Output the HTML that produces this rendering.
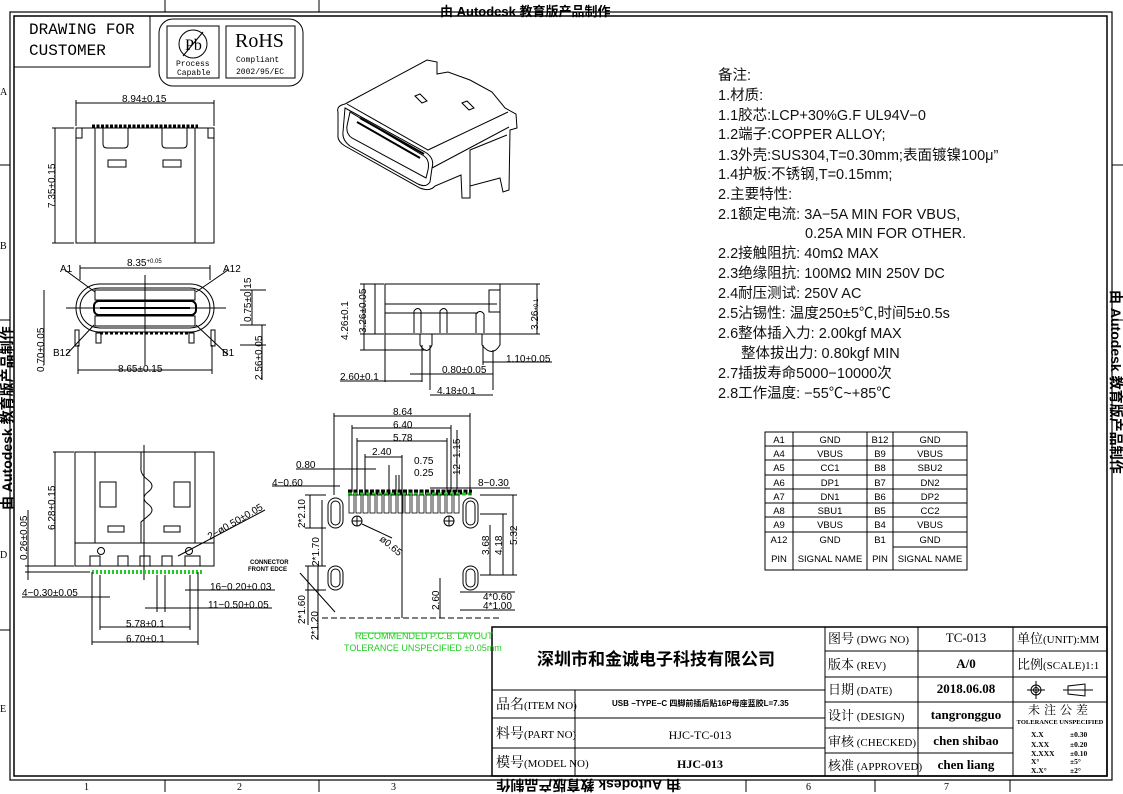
<!DOCTYPE html>
<html><head><meta charset="utf-8"><style>
html,body{margin:0;padding:0;background:#fff;}
svg{display:block;}
text{font-family:"Liberation Sans","Noto Sans CJK SC",sans-serif;fill:#000;}
.s,.s text{font-family:"Liberation Serif","Noto Serif CJK SC",serif;}
.m{font-family:"Liberation Mono","Noto Sans CJK SC",monospace;}
.d{font-size:10px;}
.g{fill:#22cc22;}
.n text{fill:#111;}
</style></head><body>
<svg width="1123" height="794" viewBox="0 0 1123 794" xmlns="http://www.w3.org/2000/svg">
<g fill="none" stroke="#000" stroke-width="1">
<rect x="10" y="12" width="1102" height="768" stroke-width="1.2"/>
<rect x="14" y="16" width="1093" height="760" stroke-width="1.5"/>
<line x1="165" y1="0" x2="165" y2="12"/><line x1="319" y1="0" x2="319" y2="12"/>
<line x1="165" y1="780" x2="165" y2="792"/><line x1="319" y1="780" x2="319" y2="792"/>
<line x1="746" y1="780" x2="746" y2="792"/><line x1="875" y1="780" x2="875" y2="792"/><line x1="1010" y1="780" x2="1010" y2="792"/>
<line x1="0" y1="165" x2="10" y2="165"/><line x1="0" y1="320" x2="10" y2="320"/><line x1="0" y1="630" x2="10" y2="630"/>
<line x1="1112" y1="165" x2="1123" y2="165"/><line x1="1112" y1="320" x2="1123" y2="320"/>
<rect x="14" y="16" width="136" height="51"/>
<rect x="159" y="19" width="144" height="67" rx="14"/>
<rect x="167" y="26" width="52" height="52"/>
<rect x="226" y="26" width="69" height="52"/>
<circle cx="193" cy="44" r="14"/><line x1="183" y1="56" x2="203" y2="32"/>

<rect x="76" y="128" width="138" height="115"/>
<line x1="95" y1="128" x2="95" y2="243"/><line x1="195" y1="128" x2="195" y2="243"/>
<path d="M76 128 L76 138 L82 138 L82 128 M214 128 L214 138 L208 138 L208 128"/>
<path d="M103 128 V144 Q103 148 107 148 H124 Q128 148 128 144 V128"/>
<path d="M162 128 V144 Q162 148 166 148 H183 Q187 148 187 144 V128"/>
<rect x="108" y="160" width="18" height="7"/><rect x="163" y="160" width="18" height="7"/>
<path d="M92 126 h106" stroke-dasharray="3 1.5" stroke-width="3"/>
<line x1="76" y1="100" x2="76" y2="126"/><line x1="214" y1="100" x2="214" y2="126"/>
<line x1="76" y1="103" x2="214" y2="103"/>
<line x1="52" y1="128" x2="74" y2="128"/><line x1="52" y1="243" x2="74" y2="243"/>
<line x1="55" y1="128" x2="55" y2="243"/>

<rect x="76" y="284" width="138" height="48" rx="24"/>
<rect x="80" y="288" width="130" height="40" rx="20"/>
<rect x="94" y="301" width="102" height="14" rx="5" stroke-width="2"/>
<line x1="100" y1="308" x2="190" y2="308" stroke-width="2"/>
<line x1="66" y1="308" x2="226" y2="308"/>
<line x1="145" y1="275" x2="145" y2="365"/>
<rect x="95" y="290" width="100" height="10"/><rect x="95" y="316" width="100" height="10"/>
<rect x="96" y="333" width="5" height="10"/><rect x="189" y="333" width="5" height="10"/>
<rect x="75" y="330" width="4" height="16"/><rect x="211" y="330" width="4" height="16"/>
<path d="M100 333 h90" stroke-dasharray="3 2" stroke-width="3"/>
<line x1="80" y1="265" x2="80" y2="280"/><line x1="210" y1="265" x2="210" y2="280"/>
<line x1="80" y1="268" x2="210" y2="268"/>
<line x1="78" y1="345" x2="78" y2="374"/><line x1="212" y1="345" x2="212" y2="374"/>
<line x1="78" y1="370" x2="212" y2="370"/>
<path d="M65 270 L95 292 M228 270 L196 292 M66 355 L94 325 M228 355 L196 325"/>
<line x1="44" y1="290" x2="44" y2="365"/>
<line x1="240" y1="290" x2="266" y2="290"/><line x1="240" y1="325" x2="266" y2="325"/><line x1="240" y1="345" x2="266" y2="345"/>
<line x1="252" y1="290" x2="252" y2="325"/><line x1="262" y1="325" x2="262" y2="380"/>

<path d="M338 112 Q336 106 345 104 L427 60 L437 62 L437 74 L448 72 L470 80 L492 92 L505 108 L516 114 L517 128 L510 130 L509 190 L503 192 L500 178 L470 186 L470 198 L462 198 L461 175 L435 186 Q430 192 420 188 L345 146 Q337 141 338 135 Z"/>
<path d="M345 108 L425 152 Q435 158 432 168 L430 182 Q426 188 418 184 L350 146 Q342 140 343 132 Z"/>
<path d="M350 112 L424 156 Q430 160 428 170 L426 178 L352 138 Q346 134 347 126 Z"/>
<path d="M347 104 L428 150 L508 112"/><path d="M432 168 L509 127"/>
<path d="M357 122 L420 158 M360 118 L424 154" stroke-width="2"/>
<path d="M415 96 L420 94 L427 101 L422 103 Z M462 103 L467 101 L474 108 L469 110 Z"/>
<path d="M470 186 L470 150 L507 135"/>

<rect x="385" y="284" width="115" height="50"/>
<line x1="385" y1="304" x2="497" y2="304"/><line x1="385" y1="313" x2="478" y2="313"/>
<rect x="489" y="290" width="11" height="22"/>
<path d="M414 333 V311 Q418 306 421 311 V333 M440 333 V311 Q444 306 447 311 V333 M476 333 V314 Q480 309 484 314 V333"/>
<path d="M420 334 V345 Q427 356 432 345 V334 M482 334 V345 Q492 358 500 345 V334"/>
<line x1="360" y1="284" x2="384" y2="284"/><line x1="360" y1="334" x2="384" y2="334"/><line x1="360" y1="350" x2="426" y2="350"/>
<line x1="364" y1="284" x2="364" y2="350"/><line x1="375" y1="284" x2="375" y2="334"/>
<line x1="500" y1="284" x2="540" y2="284"/><line x1="500" y1="334" x2="540" y2="334"/><line x1="537" y1="284" x2="537" y2="334"/>
<line x1="385" y1="334" x2="385" y2="382"/><line x1="422" y1="345" x2="422" y2="382"/><line x1="430" y1="345" x2="430" y2="390"/>
<line x1="493" y1="350" x2="493" y2="390"/><line x1="483" y1="345" x2="483" y2="365"/>
<line x1="340" y1="381" x2="422" y2="381"/><line x1="410" y1="374" x2="493" y2="374"/><line x1="430" y1="395" x2="493" y2="395"/>
<line x1="483" y1="362" x2="552" y2="362"/>

<rect x="75" y="452" width="139" height="114"/>
<line x1="95" y1="452" x2="95" y2="543"/><line x1="195" y1="452" x2="195" y2="543"/>
<line x1="75" y1="543" x2="214" y2="543"/>
<line x1="144" y1="445" x2="144" y2="580"/>
<path d="M141 452 V468 Q140 474 148 480 Q156 486 148 492 Q140 498 148 504 Q156 510 148 516 L141 522 V543"/>
<rect x="100" y="482" width="16" height="25"/><rect x="174" y="482" width="16" height="25"/>
<rect x="108" y="526" width="16" height="6"/><rect x="164" y="526" width="16" height="6"/>
<circle cx="101" cy="551" r="3.5"/><circle cx="189" cy="551" r="3.5"/>
<path d="M90 566 V556 H100 V566 M118 566 V556 H128 V566 M140 566 V556 H150 V566 M162 566 V556 H172 V566 M185 566 V556 H200 V566"/>
<path d="M92 572 h110" stroke-dasharray="2 2" stroke-width="4" stroke="#22cc22"/>
<line x1="53" y1="452" x2="74" y2="452"/><line x1="53" y1="566" x2="74" y2="566"/><line x1="55" y1="452" x2="55" y2="566"/>
<line x1="25" y1="566" x2="74" y2="566"/><line x1="25" y1="572" x2="90" y2="572"/><line x1="28" y1="510" x2="28" y2="580"/>
<line x1="92" y1="572" x2="92" y2="645"/><line x1="198" y1="572" x2="198" y2="645"/>
<line x1="100" y1="575" x2="100" y2="630"/><line x1="190" y1="575" x2="190" y2="630"/>
<line x1="100" y1="627" x2="190" y2="627"/><line x1="92" y1="642" x2="198" y2="642"/>
<line x1="22" y1="597" x2="110" y2="597"/><line x1="185" y1="590" x2="275" y2="590"/><line x1="145" y1="608" x2="272" y2="608"/>
<line x1="157" y1="575" x2="157" y2="612"/><line x1="165" y1="575" x2="165" y2="612"/>
<line x1="178" y1="556" x2="265" y2="510"/>

<path d="M348 492 h124" stroke-dasharray="4 1.5" stroke-width="5"/>
<path d="M348 494 h124" stroke-dasharray="4 2" stroke-width="3" stroke="#22cc22"/>
<g stroke-width="0.8">
<rect x="349" y="495" width="5" height="18"/><rect x="356" y="495" width="5" height="18"/><rect x="363" y="495" width="5" height="18"/><rect x="370" y="495" width="5" height="18"/><rect x="377" y="495" width="5" height="18"/><rect x="384" y="495" width="5" height="18"/><rect x="391" y="495" width="5" height="18"/><rect x="398" y="495" width="5" height="18"/><rect x="405" y="495" width="5" height="18"/><rect x="412" y="495" width="5" height="18"/><rect x="419" y="495" width="5" height="18"/><rect x="426" y="495" width="5" height="18"/><rect x="433" y="495" width="5" height="18"/><rect x="440" y="495" width="5" height="18"/><rect x="447" y="495" width="5" height="18"/><rect x="454" y="495" width="5" height="18"/>
</g>
<rect x="328" y="498" width="15" height="30" rx="7.5"/><rect x="331" y="501" width="9" height="24" rx="4.5"/>
<rect x="463" y="498" width="15" height="30" rx="7.5"/><rect x="466" y="501" width="9" height="24" rx="4.5"/>
<rect x="328" y="566" width="15" height="24" rx="7.5"/><rect x="331" y="569" width="9" height="18" rx="4.5"/>
<rect x="463" y="566" width="15" height="24" rx="7.5"/><rect x="466" y="569" width="9" height="18" rx="4.5"/>
<circle cx="357" cy="521" r="5"/><circle cx="449" cy="521" r="5"/>
<path d="M352 521 h10 M357 516 v10 M444 521 h10 M449 516 v10"/>
<path d="M362 524 L392 538"/>
<line x1="322" y1="618" x2="500" y2="618" stroke-dasharray="6 3"/>
<line x1="402" y1="455" x2="402" y2="618"/>
<line x1="334" y1="413" x2="334" y2="495"/><line x1="470" y1="413" x2="470" y2="495"/><line x1="334" y1="416" x2="470" y2="416"/>
<line x1="352" y1="425" x2="352" y2="492"/><line x1="451" y1="425" x2="451" y2="492"/><line x1="352" y1="428" x2="451" y2="428"/>
<line x1="357" y1="438" x2="357" y2="492"/><line x1="447" y1="438" x2="447" y2="492"/><line x1="357" y1="441" x2="447" y2="441"/>
<line x1="365" y1="454" x2="365" y2="492"/><line x1="365" y1="457" x2="402" y2="457"/>
<line x1="389" y1="465" x2="389" y2="492"/><line x1="396" y1="475" x2="396" y2="492"/><line x1="399" y1="475" x2="399" y2="492"/>
<line x1="296" y1="469" x2="376" y2="469"/><line x1="272" y1="486" x2="340" y2="486"/><line x1="430" y1="488" x2="510" y2="488"/>
<line x1="457" y1="430" x2="457" y2="492"/>
<line x1="305" y1="495" x2="326" y2="495"/><line x1="305" y1="528" x2="326" y2="528"/><line x1="310" y1="495" x2="310" y2="528"/>
<line x1="322" y1="500" x2="322" y2="566"/>
<line x1="305" y1="566" x2="326" y2="566"/><line x1="305" y1="590" x2="326" y2="590"/><line x1="308" y1="566" x2="308" y2="625"/><line x1="318" y1="566" x2="318" y2="640"/>
<line x1="480" y1="495" x2="517" y2="495"/><line x1="480" y1="514" x2="507" y2="514"/><line x1="480" y1="575" x2="517" y2="575"/>
<line x1="513" y1="495" x2="513" y2="575"/><line x1="503" y1="514" x2="503" y2="575"/><line x1="490" y1="525" x2="490" y2="575"/>
<line x1="440" y1="578" x2="440" y2="618"/>
<line x1="460" y1="592" x2="515" y2="592"/><line x1="460" y1="610" x2="515" y2="610"/>
<line x1="300" y1="573" x2="335" y2="612"/>
<line x1="355" y1="633" x2="480" y2="633" stroke="#22cc22"/>

<rect x="765" y="432" width="202" height="138"/>
<line x1="793" y1="432" x2="793" y2="570"/><line x1="867" y1="432" x2="867" y2="570"/><line x1="893" y1="432" x2="893" y2="570"/>
<line x1="765" y1="446" x2="967" y2="446"/><line x1="765" y1="460" x2="967" y2="460"/><line x1="765" y1="475" x2="967" y2="475"/><line x1="765" y1="489" x2="967" y2="489"/><line x1="765" y1="503" x2="967" y2="503"/><line x1="765" y1="517" x2="967" y2="517"/><line x1="765" y1="532" x2="967" y2="532"/><line x1="893" y1="547" x2="967" y2="547"/>

<rect x="492" y="627" width="615" height="149" stroke-width="1.5"/>
<line x1="825" y1="627" x2="825" y2="776"/><line x1="918" y1="627" x2="918" y2="776"/><line x1="1013" y1="627" x2="1013" y2="776"/>
<line x1="492" y1="690" x2="825" y2="690"/><line x1="492" y1="718" x2="825" y2="718"/><line x1="492" y1="748" x2="825" y2="748"/>
<line x1="575" y1="690" x2="575" y2="776"/>
<line x1="825" y1="651" x2="1107" y2="651"/><line x1="825" y1="677" x2="1107" y2="677"/><line x1="825" y1="702" x2="1107" y2="702"/>
<line x1="825" y1="728" x2="1013" y2="728"/><line x1="825" y1="753" x2="1013" y2="753"/>
<circle cx="1036" cy="690" r="5"/><circle cx="1036" cy="690" r="2.5"/><path d="M1027 690 h18 M1036 681 v18"/>
<path d="M1063 690 h30 M1068 686 v8 L1085 696 V684 Z"/>
</g>

<text class="m" x="29" y="34" font-size="16" fill="#1a1a50">DRAWING FOR</text>
<text class="m" x="29" y="55" font-size="16" fill="#1a1a50">CUSTOMER</text>
<text class="s" x="185" y="50" font-size="16">Pb</text>
<text class="m" x="176" y="66" font-size="8">Process</text>
<text class="m" x="177" y="75" font-size="8">Capable</text>
<text class="s" x="235" y="47" font-size="20">RoHS</text>
<text class="m" x="236" y="62" font-size="8">Compliant</text>
<text class="m" x="236" y="74" font-size="8">2002/95/EC</text>

<g class="d">
<text x="122" y="102">8.94±0.15</text>
<text transform="translate(55,208) rotate(-90)">7.35±0.15</text>
<text x="127" y="266">8.35<tspan font-size="6" dy="-3">+0.05</tspan></text>
<text x="60" y="272">A1</text><text x="223" y="272">A12</text>
<text x="53" y="356">B12</text><text x="222" y="356">B1</text>
<text x="118" y="372">8.65±0.15</text>
<text transform="translate(251,322) rotate(-90)">0.75±0.15</text>
<text transform="translate(262,380) rotate(-90)">2.56±0.05</text>
<text transform="translate(44,372) rotate(-90)">0.70±0.05</text>
<text transform="translate(348,340) rotate(-90)">4.26±0.1</text>
<text transform="translate(366,333) rotate(-90)">3.26±0.05</text>
<text transform="translate(538,330) rotate(-90)">3.26<tspan font-size="6">+0.1</tspan></text>
<text x="506" y="362">1.10±0.05</text>
<text x="442" y="373">0.80±0.05</text>
<text x="340" y="380">2.60±0.1</text>
<text x="437" y="394">4.18±0.1</text>
<text transform="translate(55,530) rotate(-90)">6.28±0.15</text>
<text transform="translate(27,560) rotate(-90)">0.26±0.05</text>
<text transform="translate(210,540) rotate(-30)">2−ø0.50±0.05</text>
<text x="22" y="596">4−0.30±0.05</text>
<text x="210" y="590">16−0.20±0.03</text>
<text x="208" y="608">11−0.50±0.05</text>
<text x="126" y="627">5.78±0.1</text>
<text x="126" y="642">6.70±0.1</text>
<text x="393" y="415">8.64</text><text x="393" y="428">6.40</text><text x="393" y="441">5.78</text>
<text x="372" y="455">2.40</text><text x="414" y="464">0.75</text><text x="414" y="476">0.25</text>
<text x="296" y="468">0.80</text><text x="272" y="486">4−0.60</text><text x="478" y="486">8−0.30</text>
<text transform="translate(460,475) rotate(-90)">12−1.15</text>
<text transform="translate(379,540) rotate(40)">ø0.65</text>
<text transform="translate(305,528) rotate(-90)">2*2.10</text>
<text transform="translate(319,566) rotate(-90)">2*1.70</text>
<text transform="translate(305,624) rotate(-90)">2*1.60</text>
<text transform="translate(318,640) rotate(-90)">2*1.20</text>
<text transform="translate(489,555) rotate(-90)">3.68</text>
<text transform="translate(502,555) rotate(-90)">4.18</text>
<text transform="translate(517,545) rotate(-90)">5.32</text>
<text transform="translate(439,610) rotate(-90)">2.60</text>
<text x="483" y="600">4*0.60</text><text x="483" y="609">4*1.00</text>
</g>
<text x="250" y="564" font-size="6" font-weight="bold">CONNECTOR</text>
<text x="248" y="571" font-size="6" font-weight="bold">FRONT EDCE</text>
<text x="355" y="639" font-size="9" class="g">RECOMMENDED  P.C.B. LAYOUT</text>
<text x="344" y="651" font-size="9" class="g">TOLERANCE UNSPECIFIED ±0.05mm</text>

<g font-size="14.5" class="n">
<text x="718" y="80">备注:</text>
<text x="718" y="100">1.材质:</text>
<text x="718" y="120">1.1胶芯:LCP+30%G.F UL94V−0</text>
<text x="718" y="139">1.2端子:COPPER ALLOY;</text>
<text x="718" y="160">1.3外壳:SUS304,T=0.30mm;表面镀镍100μ”</text>
<text x="718" y="179">1.4护板:不锈钢,T=0.15mm;</text>
<text x="718" y="199">2.主要特性:</text>
<text x="718" y="219">2.1额定电流: 3A−5A MIN FOR VBUS,</text>
<text x="805" y="238">0.25A MIN FOR OTHER.</text>
<text x="718" y="258">2.2接触阻抗: 40mΩ MAX</text>
<text x="718" y="278">2.3绝缘阻抗: 100MΩ MIN 250V DC</text>
<text x="718" y="298">2.4耐压测试: 250V AC</text>
<text x="718" y="318">2.5沾锡性: 温度250±5℃,时间5±0.5s</text>
<text x="718" y="338">2.6整体插入力: 2.00kgf MAX</text>
<text x="741" y="358">整体拔出力: 0.80kgf MIN</text>
<text x="718" y="378">2.7插拔寿命5000−10000次</text>
<text x="718" y="398">2.8工作温度: −55℃~+85℃</text>
</g>

<g font-size="9.5" text-anchor="middle">
<text x="779" y="443">A1</text><text x="830" y="443">GND</text><text x="880" y="443">B12</text><text x="930" y="443">GND</text>
<text x="779" y="457">A4</text><text x="830" y="457">VBUS</text><text x="880" y="457">B9</text><text x="930" y="457">VBUS</text>
<text x="779" y="471">A5</text><text x="830" y="471">CC1</text><text x="880" y="471">B8</text><text x="930" y="471">SBU2</text>
<text x="779" y="486">A6</text><text x="830" y="486">DP1</text><text x="880" y="486">B7</text><text x="930" y="486">DN2</text>
<text x="779" y="500">A7</text><text x="830" y="500">DN1</text><text x="880" y="500">B6</text><text x="930" y="500">DP2</text>
<text x="779" y="514">A8</text><text x="830" y="514">SBU1</text><text x="880" y="514">B5</text><text x="930" y="514">CC2</text>
<text x="779" y="528">A9</text><text x="830" y="528">VBUS</text><text x="880" y="528">B4</text><text x="930" y="528">VBUS</text>
<text x="779" y="543">A12</text><text x="830" y="543">GND</text><text x="880" y="543">B1</text><text x="930" y="543">GND</text>
<text x="779" y="562">PIN</text><text x="830" y="562">SIGNAL NAME</text><text x="880" y="562">PIN</text><text x="930" y="562">SIGNAL NAME</text>
</g>

<text x="537" y="665" font-size="17" font-weight="bold">深圳市和金诚电子科技有限公司</text>
<g class="s" font-size="11">
<text x="496" y="709"><tspan font-size="14">品名</tspan>(ITEM NO)</text>
<text x="496" y="738"><tspan font-size="14">料号</tspan>(PART NO)</text>
<text x="496" y="767"><tspan font-size="14">模号</tspan>(MODEL NO)</text>
<text x="828" y="643"><tspan font-size="13">图号</tspan> (DWG NO)</text>
<text x="828" y="669"><tspan font-size="13">版本</tspan> (REV)</text>
<text x="828" y="694"><tspan font-size="13">日期</tspan> (DATE)</text>
<text x="828" y="720"><tspan font-size="13">设计</tspan> (DESIGN)</text>
<text x="828" y="746"><tspan font-size="13">审核</tspan> (CHECKED)</text>
<text x="828" y="770"><tspan font-size="13">核准</tspan> (APPROVED)</text>
<text x="1017" y="643"><tspan font-size="13">单位</tspan>(UNIT):MM</text>
<text x="1017" y="669"><tspan font-size="13">比例</tspan>(SCALE)1:1</text>
<text x="966" y="642" text-anchor="middle" font-size="13">TC-013</text>
<text x="966" y="668" text-anchor="middle" font-size="13" font-weight="bold">A/0</text>
<text x="966" y="693" text-anchor="middle" font-size="13" font-weight="bold">2018.06.08</text>
<text x="966" y="719" text-anchor="middle" font-size="13" font-weight="bold">tangrongguo</text>
<text x="966" y="745" text-anchor="middle" font-size="13" font-weight="bold">chen shibao</text>
<text x="966" y="769" text-anchor="middle" font-size="13" font-weight="bold">chen liang</text>
<text x="700" y="739" text-anchor="middle" font-size="12">HJC-TC-013</text>
<text x="700" y="768" text-anchor="middle" font-size="12" font-weight="bold">HJC-013</text>
<text x="1060" y="714" text-anchor="middle" font-size="12" letter-spacing="4">未注公差</text>
<text x="1060" y="724" text-anchor="middle" font-size="6.5" font-weight="bold">TOLERANCE UNSPECIFIED</text>
<g font-size="7.5" font-weight="bold">
<text x="1031" y="737">X.X</text><text x="1070" y="737">±0.30</text>
<text x="1031" y="747">X.XX</text><text x="1070" y="747">±0.20</text>
<text x="1031" y="756">X.XXX</text><text x="1070" y="756">±0.10</text>
<text x="1031" y="764">X°</text><text x="1070" y="764">±5°</text>
<text x="1031" y="773">X.X°</text><text x="1070" y="773">±2°</text>
</g>
</g>
<text x="612" y="706" font-size="8" font-weight="bold">USB −TYPE−C 四脚前插后贴16P母座蓝胶L=7.35</text>

<g class="s" font-size="10">
<text x="84" y="790">1</text><text x="237" y="790">2</text><text x="391" y="790">3</text>
<text x="676" y="790">5</text><text x="806" y="790">6</text><text x="944" y="790">7</text>
<text x="0" y="95">A</text><text x="0" y="249">B</text><text x="0" y="558">D</text><text x="0" y="712">E</text>
</g>
<text transform="translate(680,780) rotate(180)" font-size="14" font-weight="bold">由 Autodesk 教育版产品制作</text>
<text x="440" y="16" font-size="13" font-weight="bold">由 Autodesk 教育版产品制作</text>
<text transform="translate(12,510) rotate(-90)" font-size="14" font-weight="bold">由 Autodesk 教育版产品制作</text>
<text transform="translate(1111,290) rotate(90)" font-size="14" font-weight="bold">由 Autodesk 教育版产品制作</text>
</svg>
</body></html>
